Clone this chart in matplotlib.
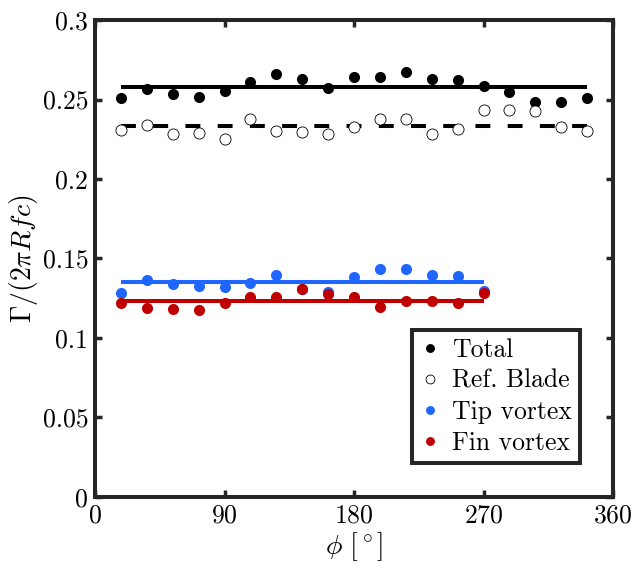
import numpy as np
import matplotlib
matplotlib.use("Agg")
import matplotlib.pyplot as plt

plt.rcParams["font.family"] = "serif"
plt.rcParams["font.serif"] = ["cmr10"]
plt.rcParams["mathtext.fontset"] = "cm"
plt.rcParams["axes.formatter.use_mathtext"] = True

# azimuthal positions [deg]
phi_all = [18, 36, 54, 72, 90, 108, 126, 144, 162, 180,
           198, 216, 234, 252, 270, 288, 306, 324, 342]
phi_vortex = phi_all[:15]

total = [0.2508, 0.2564, 0.2533, 0.2518, 0.2552, 0.2610, 0.2660, 0.2631, 0.2572, 0.2643,
         0.2640, 0.2671, 0.2631, 0.2621, 0.2585, 0.2547, 0.2484, 0.2482, 0.2512]
ref_blade = [0.2308, 0.2338, 0.2283, 0.2287, 0.2252, 0.2379, 0.2302, 0.2296, 0.2283, 0.2325,
             0.2377, 0.2379, 0.2285, 0.2317, 0.2432, 0.2436, 0.2428, 0.2325, 0.2304]
tip_vortex = [0.1281, 0.1363, 0.1340, 0.1329, 0.1323, 0.1346, 0.1396, 0.1310, 0.1290, 0.1382,
              0.1434, 0.1432, 0.1395, 0.1393, 0.1298]
fin_vortex = [0.1220, 0.1189, 0.1181, 0.1176, 0.1222, 0.1256, 0.1260, 0.1308, 0.1279, 0.1260,
              0.1197, 0.1233, 0.1235, 0.1222, 0.1281]

blue = "#1f66ff"
red = "#c00000"
edge = "#262626"

fig = plt.figure(figsize=(6.34, 5.67), dpi=100)
ax = fig.add_axes([0.150, 0.1235, 0.817, 0.8412])

lw = 2.9
ax.plot([phi_all[0], phi_all[-1]], [np.mean(total)] * 2, color="k", lw=lw, solid_capstyle="butt")
ax.plot([phi_all[0], phi_all[-1]], [np.mean(ref_blade)] * 2, color="k", lw=lw,
        linestyle=(0, (3.7, 4.3)), dash_capstyle="butt")
ax.plot([phi_vortex[0], phi_vortex[-1]], [np.mean(tip_vortex)] * 2, color=blue, lw=lw, solid_capstyle="butt")
ax.plot([phi_vortex[0], phi_vortex[-1]], [np.mean(fin_vortex)] * 2, color=red, lw=lw, solid_capstyle="butt")

ms = 8
ax.plot(phi_all, total, "o", color="k", ms=ms, mew=0, label="Total")
ax.plot(phi_all, ref_blade, "o", mfc="white", mec="k", ms=ms, mew=0.6, label="Ref. Blade")
ax.plot(phi_vortex, tip_vortex, "o", color=blue, ms=ms, mew=0, label="Tip vortex")
ax.plot(phi_vortex, fin_vortex, "o", color=red, ms=ms, mew=0, label="Fin vortex")

ax.set_xlim(0, 360)
ax.set_ylim(0, 0.3)
ax.set_xticks([0, 90, 180, 270, 360])
ax.set_yticks([0, 0.05, 0.1, 0.15, 0.2, 0.25, 0.3])
ax.set_yticklabels(["0", "0.05", "0.1", "0.15", "0.2", "0.25", "0.3"])
ax.tick_params(direction="in", length=5, width=2.5, color=edge, labelsize=18.5,
               top=True, right=True, pad=5)
for s in ax.spines.values():
    s.set_linewidth(2.9)
    s.set_color(edge)

ax.set_xlabel(r"$\phi\ [^\circ]$", fontsize=20, labelpad=2)
ax.set_ylabel(r"$\Gamma/(2\pi R f c)$", fontsize=20, labelpad=2)

leg = ax.legend(loc="lower right", bbox_to_anchor=(0.936, 0.071), borderaxespad=0,
                fontsize=18.5, handlelength=0.7, handletextpad=0.5, labelspacing=0.28,
                borderpad=0.33, fancybox=False, framealpha=1, markerscale=0.8)
leg.get_frame().set_edgecolor(edge)
leg.get_frame().set_linewidth(2.9)

fig.savefig("out.png", dpi=100)
